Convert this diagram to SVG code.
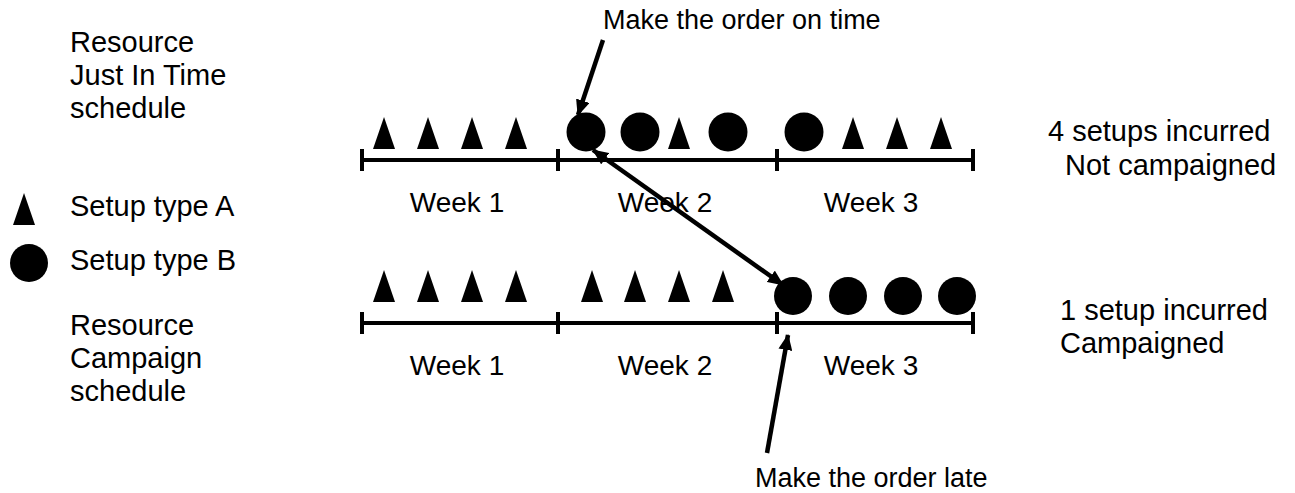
<svg xmlns="http://www.w3.org/2000/svg" width="1295" height="493" viewBox="0 0 1295 493">
<style>
text{font-family:"Liberation Sans",Arial,sans-serif;fill:#000}
.lbl{font-size:29px}
.wk{font-size:28px;text-anchor:middle}
.mk{font-size:27px}
.tl{stroke:#000;stroke-width:4;fill:none}
.arr{stroke:#000;stroke-width:4.5;fill:none}
.sh{fill:#000}
</style>
<defs>
<marker id="ah" viewBox="0 0 16 14" refX="15" refY="7" markerWidth="16" markerHeight="14" markerUnits="userSpaceOnUse" orient="auto-start-reverse">
<path d="M0,0 L16,7 L0,14 Z" fill="#000"/>
</marker>
<path id="tri" d="M-11,16 L0,-16 L11,16 Z"/>
</defs>

<g id="legend">
<text class="lbl" x="70" y="52">Resource</text>
<text class="lbl" x="70" y="85">Just In Time</text>
<text class="lbl" x="70" y="118">schedule</text>
<use href="#tri" class="sh" x="24" y="209"/>
<text class="lbl" x="70" y="216">Setup type A</text>
<circle class="sh" cx="29" cy="263" r="19"/>
<text class="lbl" x="70" y="270">Setup type B</text>
<text class="lbl" x="70" y="335">Resource</text>
<text class="lbl" x="70" y="368">Campaign</text>
<text class="lbl" x="70" y="401">schedule</text>
</g>

<g id="timeline-jit">
<path class="tl" d="M362,160 H975 M362,149 V171 M558,149 V171 M777,149 V171 M973,149 V171"/>
<use href="#tri" class="sh" x="384" y="133"/>
<use href="#tri" class="sh" x="428" y="133"/>
<use href="#tri" class="sh" x="472" y="133"/>
<use href="#tri" class="sh" x="516" y="133"/>
<circle class="sh" cx="586" cy="132" r="19.5"/>
<circle class="sh" cx="640" cy="132" r="19.5"/>
<use href="#tri" class="sh" x="679" y="133"/>
<circle class="sh" cx="728" cy="132" r="19.5"/>
<circle class="sh" cx="804" cy="132" r="19.5"/>
<use href="#tri" class="sh" x="853" y="133"/>
<use href="#tri" class="sh" x="897" y="133"/>
<use href="#tri" class="sh" x="941" y="133"/>
<text class="wk" x="457" y="212">Week 1</text>
<text class="wk" x="665" y="212">Week 2</text>
<text class="wk" x="871" y="212">Week 3</text>
</g>

<g id="timeline-campaign">
<path class="tl" d="M362,323 H975 M362,312 V334 M558,312 V334 M777,312 V334 M973,312 V334"/>
<use href="#tri" class="sh" x="384" y="286"/>
<use href="#tri" class="sh" x="428" y="286"/>
<use href="#tri" class="sh" x="472" y="286"/>
<use href="#tri" class="sh" x="516" y="286"/>
<use href="#tri" class="sh" x="592" y="286"/>
<use href="#tri" class="sh" x="635" y="286"/>
<use href="#tri" class="sh" x="679" y="286"/>
<use href="#tri" class="sh" x="723" y="286"/>
<circle class="sh" cx="793" cy="296" r="19"/>
<circle class="sh" cx="848" cy="296" r="19"/>
<circle class="sh" cx="903" cy="296" r="19"/>
<circle class="sh" cx="957" cy="296" r="19"/>
<text class="wk" x="457" y="375">Week 1</text>
<text class="wk" x="665" y="375">Week 2</text>
<text class="wk" x="871" y="375">Week 3</text>
</g>

<g id="results">
<text class="lbl" x="1048" y="141">4 setups incurred</text>
<text class="lbl" x="1065" y="175">Not campaigned</text>
<text class="lbl" x="1060" y="320">1 setup incurred</text>
<text class="lbl" x="1060" y="353">Campaigned</text>
</g>

<g id="annotations">
<text class="mk" x="603" y="29">Make the order on time</text>
<text class="mk" x="755" y="487">Make the order late</text>
</g>

<g id="connectors">
<line class="arr" x1="603" y1="40" x2="578" y2="115" marker-end="url(#ah)"/>
<line class="arr" x1="593" y1="150" x2="783" y2="285" marker-start="url(#ah)" marker-end="url(#ah)"/>
<line class="arr" x1="767" y1="453" x2="788" y2="335" marker-end="url(#ah)"/>
</g>
</svg>
